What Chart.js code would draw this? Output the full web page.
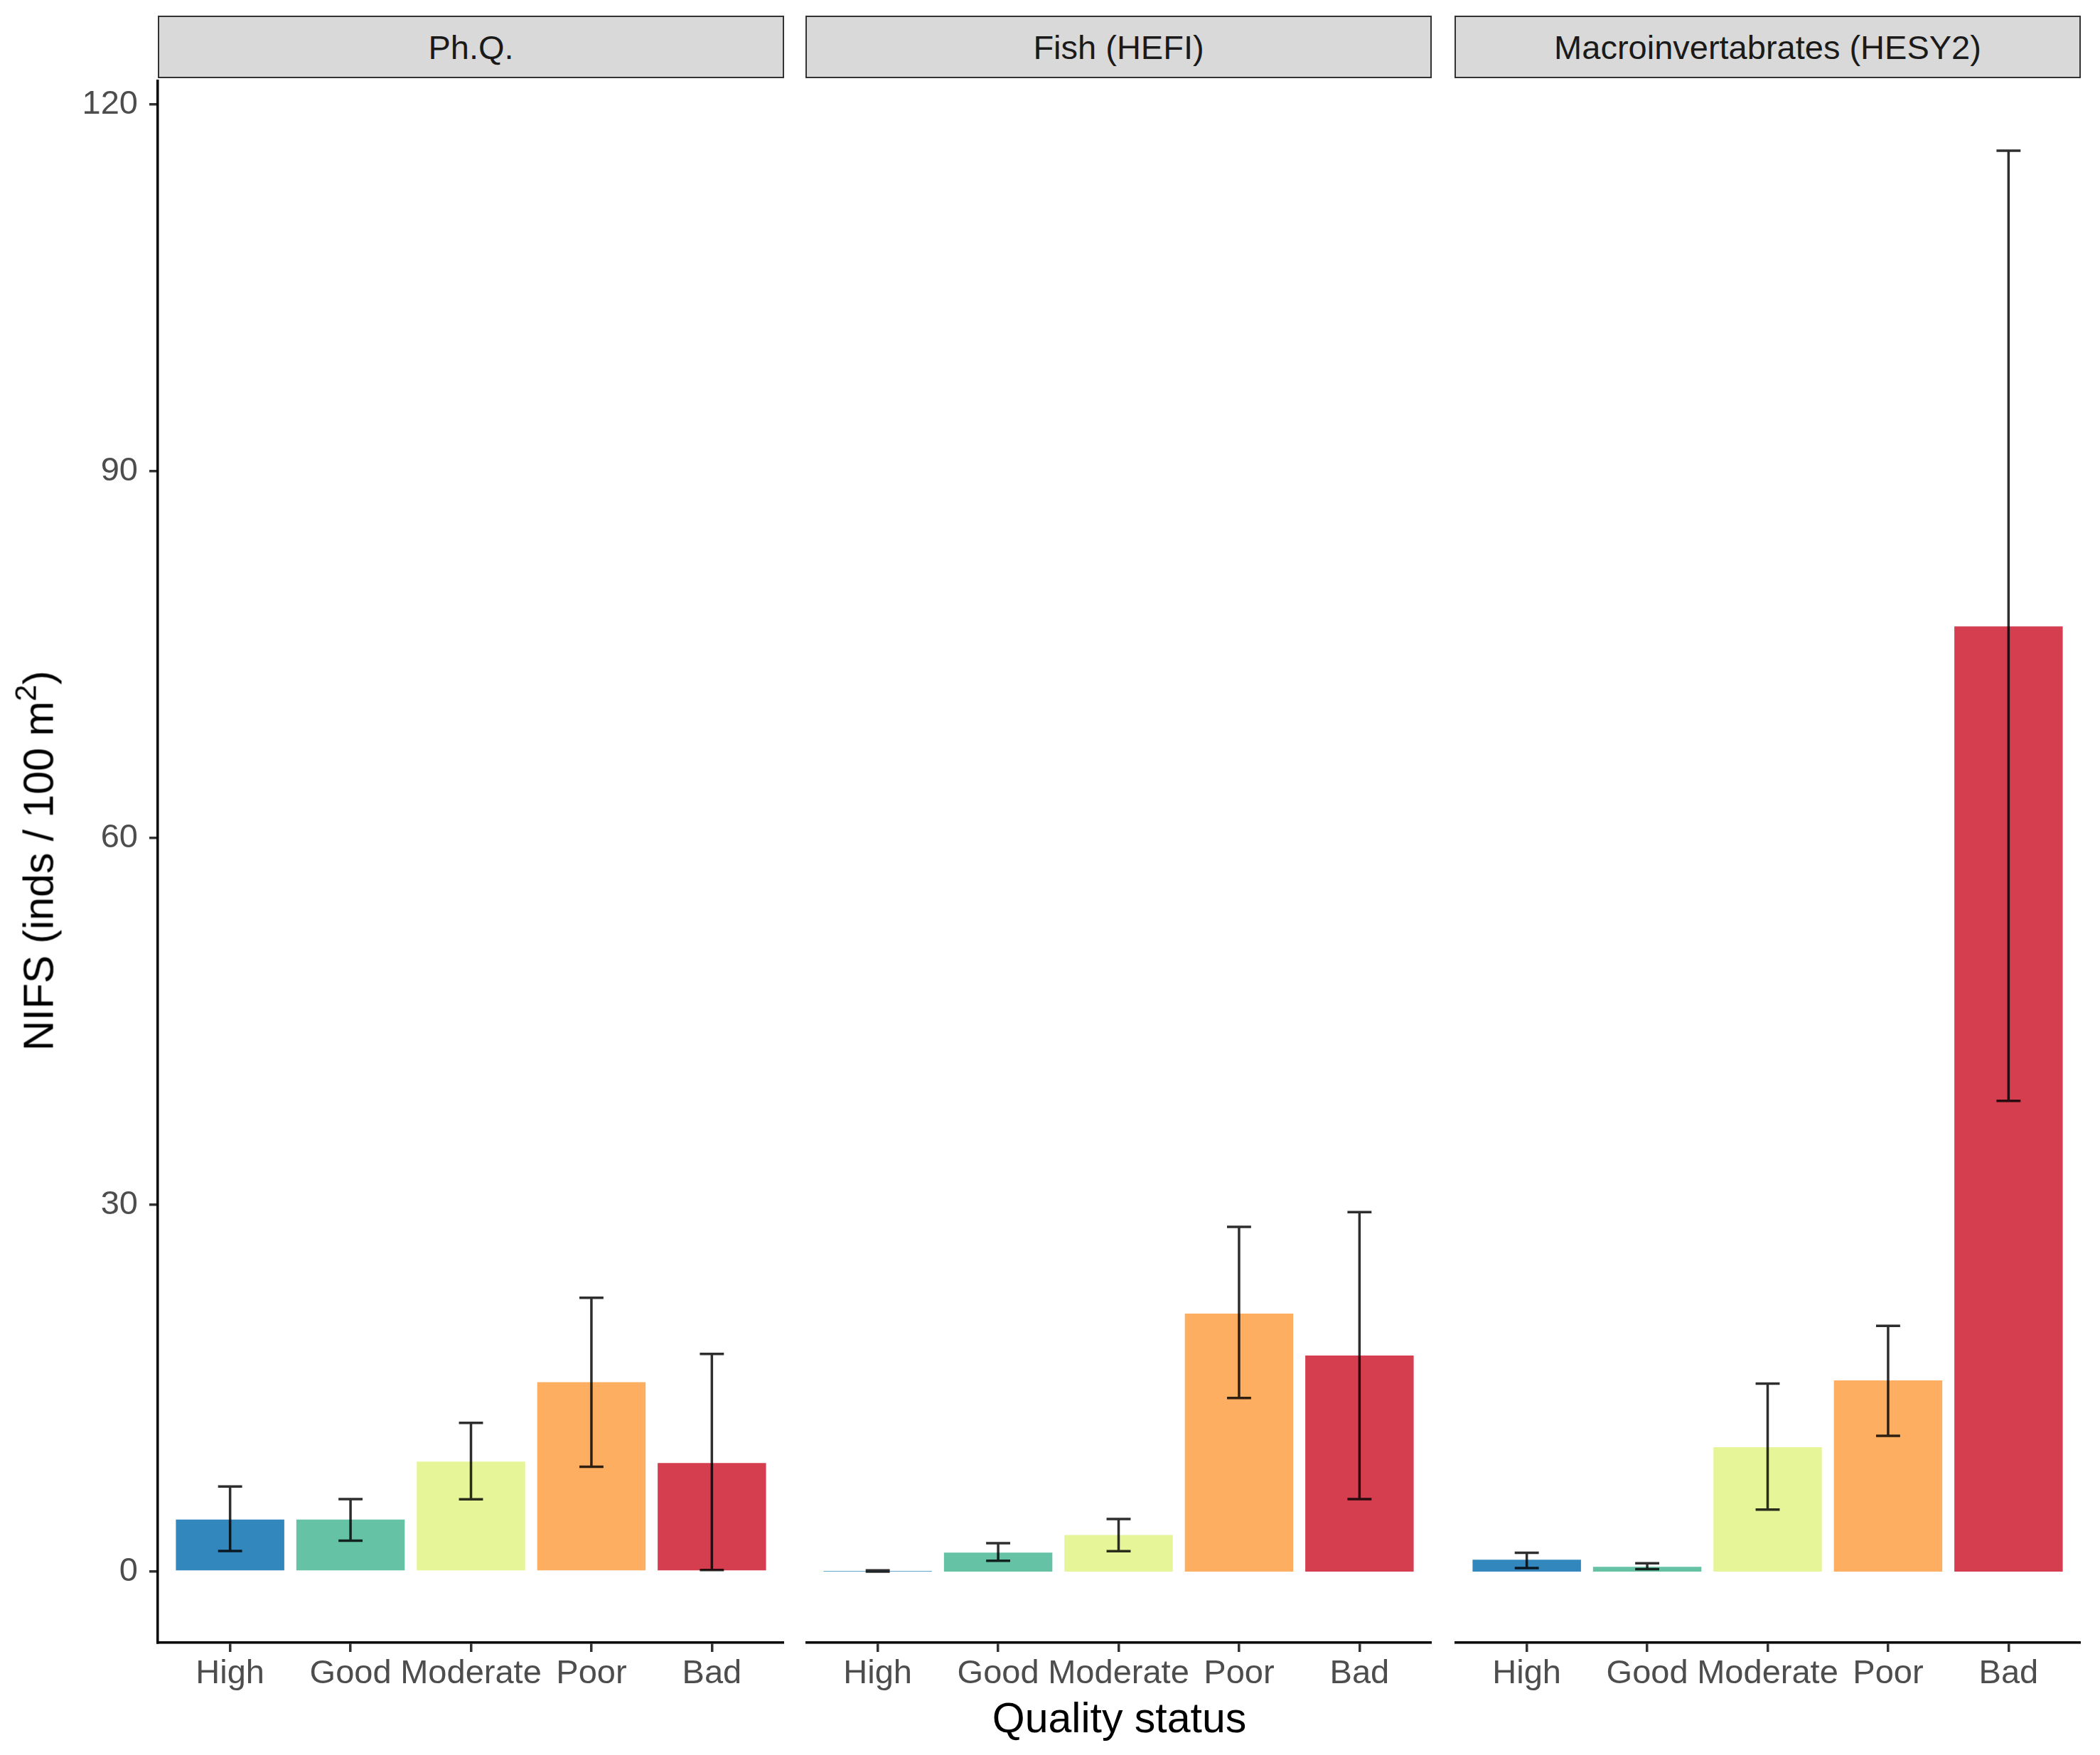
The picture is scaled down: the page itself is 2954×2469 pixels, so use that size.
<!DOCTYPE html>
<html>
<head>
<meta charset="utf-8">
<title>NIFS by quality status</title>
<script src="https://cdn.jsdelivr.net/npm/chart.js@4.4.1/dist/chart.umd.min.js"></script>
<style>
  html, body { margin: 0; padding: 0; background: #fff; }
  #page { position: relative; width: 2954px; height: 2469px; overflow: hidden; font-family: "Liberation Sans", Arial, sans-serif; }
  canvas { position: absolute; top: 112px; }
  .strip {
    position: absolute; top: 22px; height: 88px; box-sizing: border-box;
    background: #d9d9d9; border: 2px solid #333333;
    display: flex; align-items: center; justify-content: center;
    font-size: 47px; color: #1a1a1a;
  }
  #xtitle { position: absolute; left: 222px; width: 2705px; top: 2388px; text-align: center; font-size: 59px; line-height: 59px; color: #000; }
  #ytitle {
    position: absolute; left: 55px; top: 1211px; font-size: 59px; line-height: 59px; color: #000;
    white-space: nowrap; transform: translate(-50%, -50%) rotate(-90deg);
  }
  #ytitle sup { font-size: 42px; line-height: 0; vertical-align: 24px; }
</style>
</head>
<body>
<div id="page">
  <div class="strip" style="left:222px;width:881px;">Ph.Q.</div>
  <div class="strip" style="left:1133px;width:881px;">Fish (HEFI)</div>
  <div class="strip" style="left:2046px;width:881px;">Macroinvertabrates (HESY2)</div>

  <canvas id="panelPhq" width="1103" height="2288" style="left:0px;"></canvas>
  <canvas id="panelFish" width="881" height="2288" style="left:1133px;"></canvas>
  <canvas id="panelMacro" width="881" height="2288" style="left:2046px;"></canvas>

  <div id="ytitle">NIFS (inds / 100 m<sup>2</sup>)</div>
  <div id="xtitle">Quality status</div>
</div>

<script>
// categorias y colores (Spectral)
const categories = ['High', 'Good', 'Moderate', 'Poor', 'Bad'];
const barColors = ['#3288BD', '#66C2A5', '#E6F598', '#FDAE61', '#D53E4F'];
const yTicks = [0, 30, 60, 90, 120];

// Ph.Q.
const phqMean = [4.26, 4.26, 9.0, 15.5, 8.88];
const phqLow = [1.69, 2.53, 5.91, 8.57, 0.13];
const phqHigh = [6.96, 5.93, 12.17, 22.4, 17.8];

// Fish (HEFI)
const fishMean = [0.05, 1.56, 3.0, 21.1, 17.67];
const fishLow = [0.0, 0.89, 1.67, 14.2, 5.93];
const fishHigh = [0.1, 2.33, 4.31, 28.2, 29.4];

// Macroinvertabrates (HESY2)
const macroMean = [0.97, 0.39, 10.17, 15.64, 77.3];
const macroLow = [0.29, 0.21, 5.08, 11.1, 38.5];
const macroHigh = [1.55, 0.68, 15.37, 20.1, 116.2];

Chart.defaults.font.family = '"Liberation Sans", Arial, sans-serif';
Chart.defaults.animation = false;

// rango del eje y como ggplot (expansion 5%)
const allHigh = phqHigh.concat(fishHigh, macroHigh);
const dataMax = Math.max(...allHigh);
const yMin = 0 - 0.05 * dataMax;
const yMax = dataMax + 0.05 * dataMax;

function makePanel(canvasId, means, lows, highs, showY) {
    const ctx = document.getElementById(canvasId).getContext('2d');

    const errorBars = {
        id: 'errorBars',
        afterDatasetsDraw(chart) {
            const c = chart.ctx;
            const x = chart.scales.x;
            const y = chart.scales.y;
            c.save();
            c.strokeStyle = 'rgba(0,0,0,0.82)';
            c.lineWidth = 3.5;
            lows.forEach((lo, i) => {
                const xc = x.getPixelForValue(i + 1);
                const x0 = x.getPixelForValue(i + 1 - 0.1);
                const x1 = x.getPixelForValue(i + 1 + 0.1);
                const yl = y.getPixelForValue(lo);
                const yh = y.getPixelForValue(highs[i]);
                c.beginPath();
                c.moveTo(xc, yl); c.lineTo(xc, yh);
                c.moveTo(x0, yl); c.lineTo(x1, yl);
                c.moveTo(x0, yh); c.lineTo(x1, yh);
                c.stroke();
            });
            c.restore();
        }
    };

    return new Chart(ctx, {
        type: 'bar',
        data: {
            datasets: [{
                data: means.map((v, i) => ({ x: i + 1, y: v })),
                backgroundColor: barColors,
                borderWidth: 0,
                barPercentage: 0.9,
                categoryPercentage: 1.0
            }]
        },
        options: {
            responsive: false,
            devicePixelRatio: 1,
            layout: { padding: 0 },
            plugins: {
                legend: { display: false },
                tooltip: { enabled: false }
            },
            scales: {
                x: {
                    type: 'linear',
                    min: 0.4,
                    max: 5.6,
                    offset: false,
                    afterBuildTicks: axis => { axis.ticks = categories.map((c, i) => ({ value: i + 1 })); },
                    afterFit: axis => {
                        axis.height = 89;
                        axis.paddingLeft = 0; axis.paddingRight = 0;
                    },
                    ticks: {
                        autoSkip: false,
                        maxRotation: 0,
                        padding: 3,
                        color: '#4d4d4d',
                        font: { size: 47 },
                        callback: v => categories[v - 1]
                    },
                    grid: {
                        display: true,
                        offset: false,
                        drawOnChartArea: false,
                        drawTicks: true,
                        tickLength: 13,
                        color: '#333333',
                        lineWidth: 3.5
                    },
                    border: { display: true, color: '#000000', width: 3.5 }
                },
                y: {
                    display: showY,
                    min: yMin,
                    max: yMax,
                    afterBuildTicks: axis => { axis.ticks = yTicks.map(v => ({ value: v })); },
                    afterFit: axis => {
                        if (showY) axis.width = 222;
                        axis.paddingTop = 0; axis.paddingBottom = 0;
                    },
                    ticks: {
                        padding: 16,
                        color: '#4d4d4d',
                        font: { size: 47 }
                    },
                    grid: {
                        display: true,
                        drawOnChartArea: false,
                        drawTicks: true,
                        tickLength: 12,
                        color: '#333333',
                        lineWidth: 3.5
                    },
                    border: { display: true, color: '#000000', width: 3.5 }
                }
            }
        },
        plugins: [errorBars]
    });
}

makePanel('panelPhq', phqMean, phqLow, phqHigh, true);
makePanel('panelFish', fishMean, fishLow, fishHigh, false);
makePanel('panelMacro', macroMean, macroLow, macroHigh, false);
</script>
</body>
</html>
